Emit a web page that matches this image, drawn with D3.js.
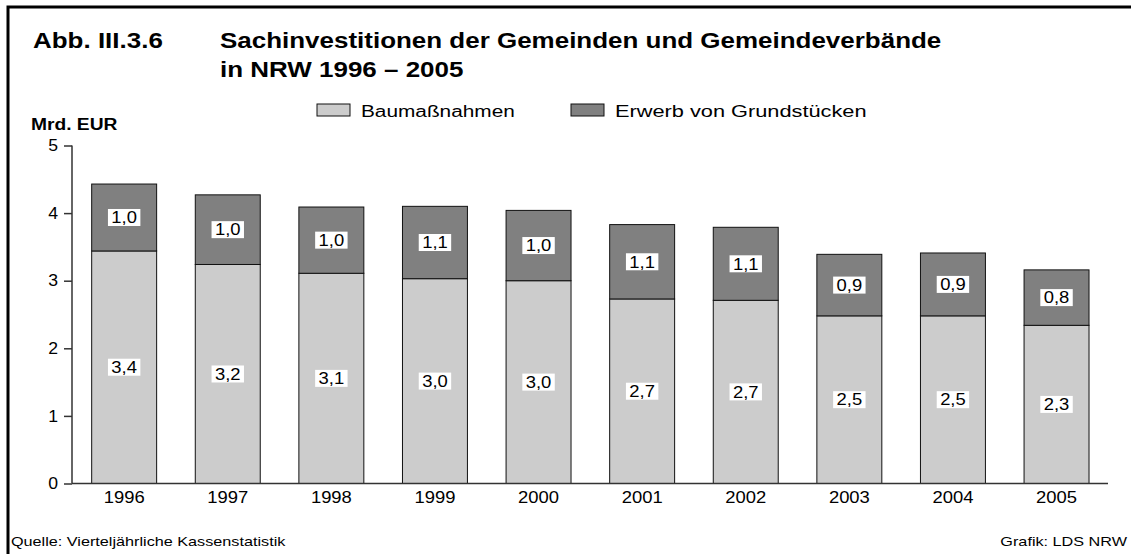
<!DOCTYPE html>
<html><head><meta charset="utf-8">
<script src="https://cdn.jsdelivr.net/npm/d3@7"></script>
<style>body{margin:0;background:#fff}svg{display:block}text{font-family:"Liberation Sans",Arial,sans-serif}</style>
</head><body><svg id="c" width="1131" height="554"></svg>
<script>
const years = ["1996","1997","1998","1999","2000","2001","2002","2003","2004","2005"];
const baumassnahmen = [3.44,3.24,3.11,3.03,3.00,2.73,2.71,2.48,2.48,2.34];
const erwerb = [0.99,1.03,0.98,1.07,1.04,1.10,1.08,0.91,0.93,0.82];
const seriesNames = ["Baumaßnahmen","Erwerb von Grundstücken"];
const yTicks = [0,1,2,3,4,5];
const colors = ["#cccccc","#808080"];

const SX = 1.2;
function stretch(sel, f){ sel.each(function(){ const L=this.getComputedTextLength(); this.setAttribute("textLength", L*(f||SX)); this.setAttribute("lengthAdjust","spacingAndGlyphs"); }); return sel; }

const svg = d3.select("#c");
svg.append("rect").attr("width",1131).attr("height",554).attr("fill","#fff");
svg.append("path").attr("d","M8,554 L8,7 L1131,7").attr("fill","none").attr("stroke","#000").attr("stroke-width",3);

stretch(svg.append("text").attr("x",33).attr("y",48).attr("font-size",22).attr("font-weight","bold").text("Abb. III.3.6"),1.18);
stretch(svg.append("text").attr("x",220).attr("y",48).attr("font-size",22).attr("font-weight","bold").text("Sachinvestitionen der Gemeinden und Gemeindeverbände"),1.18);
stretch(svg.append("text").attr("x",220).attr("y",77).attr("font-size",22).attr("font-weight","bold").text("in NRW 1996 – 2005"),1.18);

const x = d3.scaleBand().domain(years).range([72,1108.7]).paddingInner(0.373).paddingOuter(0.19);
const y = d3.scaleLinear().domain([0,5]).range([483.5,145.5]);

const data = years.map((yr,i)=>({year:yr,b:baumassnahmen[i],e:erwerb[i]}));
const stack = d3.stack().keys(["b","e"])(data);

const g = svg.append("g");
stack.forEach((layer,li)=>{
  g.selectAll(null).data(layer).enter().append("rect")
    .attr("x",d=>x(d.data.year)).attr("width",x.bandwidth())
    .attr("y",d=>y(d[1])).attr("height",d=>y(d[0])-y(d[1]))
    .attr("fill",colors[li]).attr("stroke","#111").attr("stroke-width",1);
});
const fmt = v=>d3.format(".1f")(v).replace(".",",");
stack.forEach((layer,li)=>{
  layer.forEach(d=>{
    const cx = x(d.data.year)+x.bandwidth()/2, cy=(y(d[0])+y(d[1]))/2;
    const t = g.append("text").attr("x",cx).attr("y",cy).attr("dy","0.36em").attr("text-anchor","middle").attr("font-size",16).text(fmt(d[1]-d[0]));
    stretch(t,1.15);
    const w = t.node().getComputedTextLength()*1.15;
    g.insert("rect",()=>t.node()).attr("x",cx-w/2-1.5).attr("y",cy-8.5).attr("width",w+3).attr("height",17).attr("fill","#fff");
  });
});

const ya = svg.append("g").attr("transform","translate(72,0)")
  .call(d3.axisLeft(y).tickValues(yTicks).tickSize(8).tickPadding(6).tickFormat(d=>d));
ya.select(".domain").attr("d","M0,145.5V483.5");
ya.selectAll("line,path").attr("stroke","#333").attr("stroke-width",1.5);
ya.selectAll("text").attr("font-size",16).attr("font-family","Liberation Sans, Arial, sans-serif").attr("fill","#000");
stretch(ya.selectAll("text"),1.1);

const xa = svg.append("g").attr("transform","translate(0,483.5)")
  .call(d3.axisBottom(x).tickSize(0).tickPadding(8));
xa.select(".domain").attr("d","M72,0H1108").attr("stroke","#333").attr("stroke-width",1.5);
xa.selectAll("text").attr("font-size",16).attr("font-family","Liberation Sans, Arial, sans-serif").attr("fill","#000");
stretch(xa.selectAll("text"),1.15);

stretch(svg.append("text").attr("x",31).attr("y",130).attr("font-size",16).attr("font-weight","bold").text("Mrd. EUR"),1.2);

const leg = [{x:317,f:1.3},{x:571,f:1.36}];
seriesNames.forEach((n,i)=>{
  svg.append("rect").attr("x",leg[i].x).attr("y",104).attr("width",33).attr("height",12).attr("fill",colors[i]).attr("stroke","#111");
  stretch(svg.append("text").attr("x",leg[i].x+44).attr("y",116.5).attr("font-size",16).text(n),leg[i].f);
});

stretch(svg.append("text").attr("x",11).attr("y",546).attr("font-size",13.5).text("Quelle: Vierteljährliche Kassenstatistik"),1.2);
stretch(svg.append("text").attr("x",1127).attr("y",546).attr("text-anchor","end").attr("font-size",13.5).text("Grafik: LDS NRW"),1.2);
</script></body></html>
